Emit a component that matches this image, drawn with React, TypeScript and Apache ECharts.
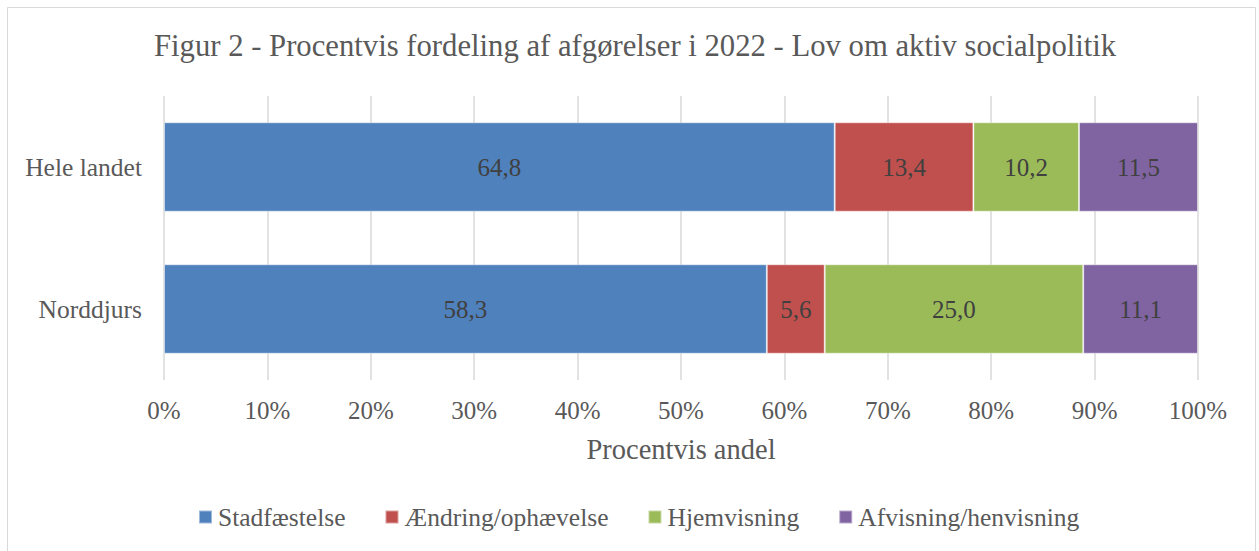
import React, { useEffect, useRef } from "react";
import * as echarts from "echarts";

const titleText = "Figur 2 - Procentvis fordeling af afgørelser i 2022 - Lov om aktiv socialpolitik";
const categories = ["Hele landet", "Norddjurs"];
const seriesNames = ["Stadfæstelse", "Ændring/ophævelse", "Hjemvisning", "Afvisning/henvisning"];
const stadfaestelse = [64.8, 58.3];
const aendring = [13.4, 5.6];
const hjemvisning = [10.2, 25.0];
const afvisning = [11.5, 11.1];
const colors = ["#4F81BD", "#C0504D", "#9BBB59", "#8064A2"];
const xTicks = [0, 10, 20, 30, 40, 50, 60, 70, 80, 90, 100];
const axisName = "Procentvis andel";

const FONT = "'Liberation Serif', serif";

export default function App() {
  const ref = useRef<HTMLDivElement>(null);
  useEffect(() => {
    if (!ref.current) return;
    const chart = echarts.init(ref.current, null, { renderer: "svg" });
    const raw = [stadfaestelse, aendring, hjemvisning, afvisning];
    const totals = categories.map((_, i) => raw.reduce((s, arr) => s + arr[i], 0));
    const series = raw.map((arr, k) => ({
      name: seriesNames[k],
      type: "bar",
      stack: "total",
      barCategoryGap: "37%",
      data: arr.map((v, i) => ({ value: (v / totals[i]) * 100, raw: v })),
      itemStyle: { color: colors[k], borderColor: "rgba(255,255,255,0.45)", borderWidth: 1 },
      label: {
        show: true,
        position: "inside",
        color: "#404040",
        fontFamily: FONT,
        fontSize: 25,
        formatter: (p: any) => p.data.raw.toFixed(1).replace(".", ","),
      },
    }));
    chart.setOption({
      animation: false,
      backgroundColor: "#ffffff",
      textStyle: { fontFamily: FONT },
      title: {
        text: titleText,
        left: 149,
        top: 25,
        textStyle: { fontFamily: FONT, fontSize: 30.7, fontWeight: "normal", color: "#595959" },
      },
      graphic: [
        {
          type: "rect",
          shape: { x: 7.5, y: 7.5, width: 1248, height: 600 },
          style: { fill: "none", stroke: "#d9d9d9", lineWidth: 1 },
          silent: true,
        },
      ],
      legend: {
        bottom: 16,
        left: 193,
        itemWidth: 13,
        itemHeight: 13,
        itemGap: 39,
        icon: "rect",
        textStyle: { fontFamily: FONT, fontSize: 25.5, color: "#595959", padding: [0, 0, 0, 1] },
        data: seriesNames,
      },
      grid: { left: 164, right: 61, top: 96, bottom: 171, containLabel: false },
      xAxis: {
        type: "value",
        min: 0,
        max: 100,
        interval: 10,
        name: axisName,
        nameLocation: "middle",
        nameGap: 55,
        nameTextStyle: { fontFamily: FONT, fontSize: 28.5, color: "#595959" },
        axisLine: { show: false },
        axisTick: { show: false },
        axisLabel: {
          margin: 18,
          fontFamily: FONT,
          fontSize: 25,
          color: "#595959",
          formatter: (v: number) => (xTicks.includes(v) ? v + "%" : ""),
        },
        splitLine: { show: true, lineStyle: { color: "#d9d9d9", width: 1.5 } },
      },
      yAxis: {
        type: "category",
        inverse: true,
        data: categories,
        axisLine: { show: false },
        axisTick: { show: false },
        axisLabel: { margin: 22, fontFamily: FONT, fontSize: 25.5, color: "#595959" },
      },
      series,
    });
    return () => chart.dispose();
  }, []);
  return (
    <div
      ref={ref}
      style={{ position: "fixed", left: 0, top: 0, width: 1259, height: 551 }}
    />
  );
}
